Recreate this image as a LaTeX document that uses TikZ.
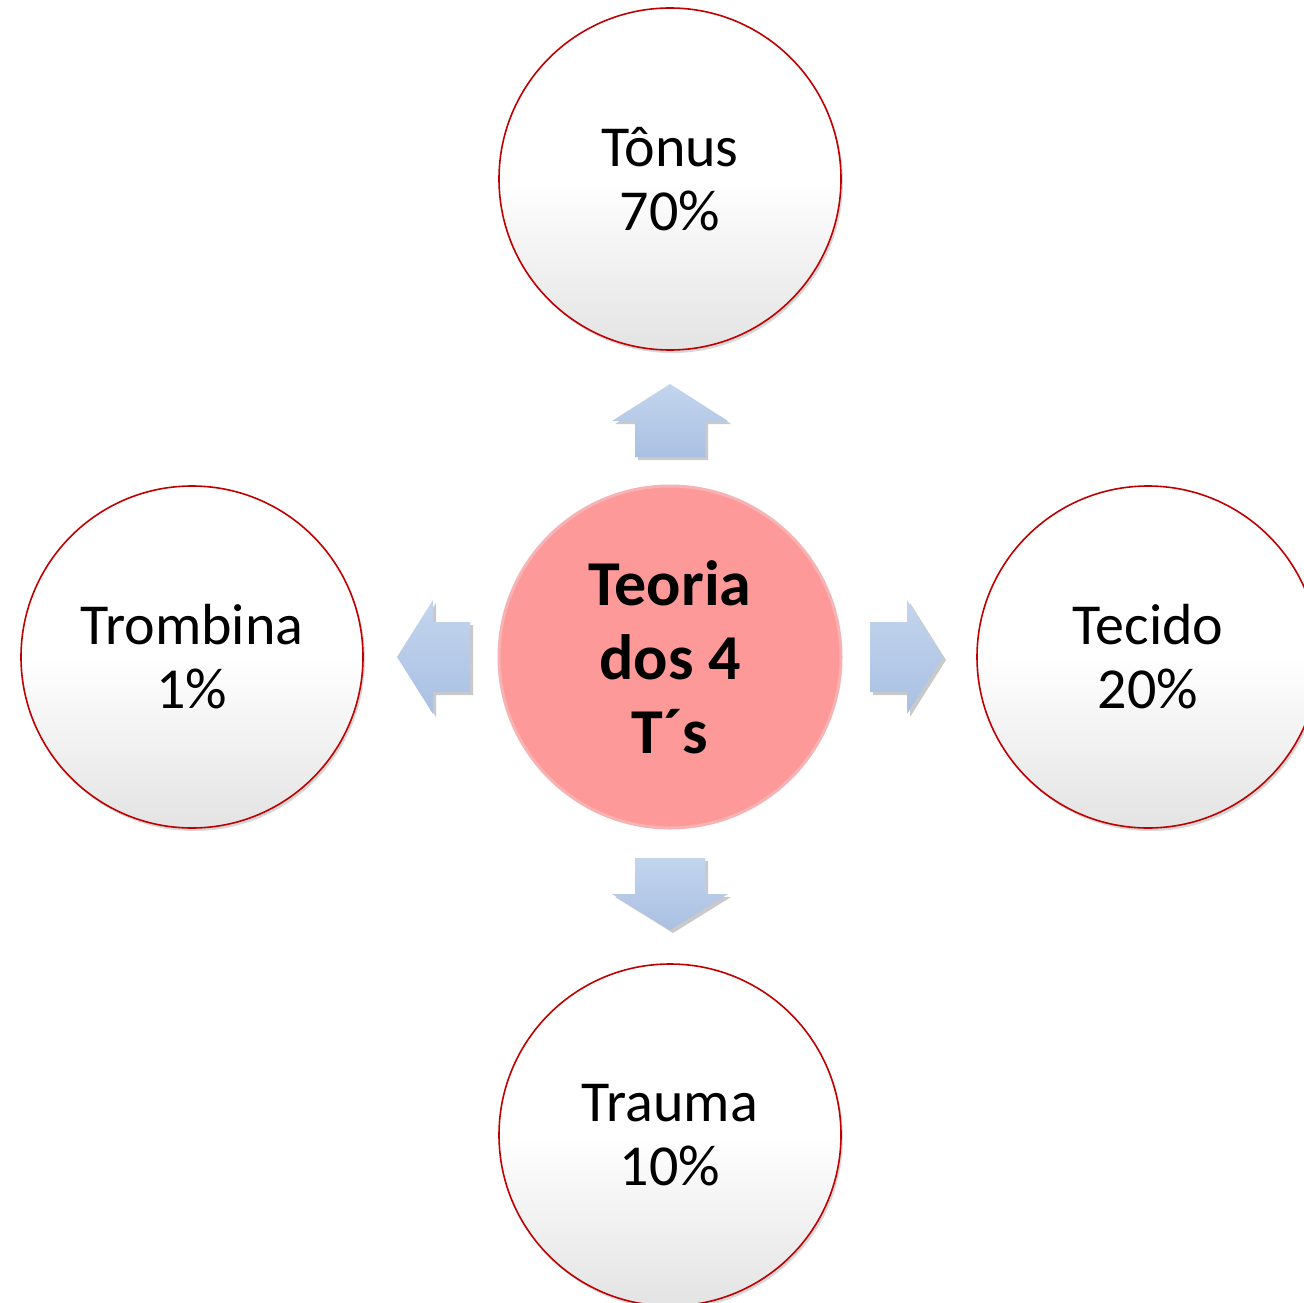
\documentclass[tikz,border=0pt]{standalone}
\usepackage{fontspec}
\setmainfont{Carlito}
\usetikzlibrary{shadows}
\definecolor{ringred}{HTML}{C00000}
\definecolor{pinkfill}{HTML}{FE9999}
\definecolor{pinkrim}{HTML}{F7B3B3}
\definecolor{arrowtop}{HTML}{C3D5EE}
\definecolor{arrowbot}{HTML}{A9C0E2}
\tikzset{
  outer/.style={circle, minimum size=342pt, inner sep=0pt, draw=ringred, line width=1.6pt,
    top color=white, bottom color=black!11, middle color=white,
    drop shadow={shadow xshift=2pt, shadow yshift=-3pt, opacity=0.25, fill=black!60},
    font=\fontsize{58}{64}\selectfont, align=center, text=black},
  core/.style={circle, minimum size=342pt, inner sep=0pt, draw=pinkrim, line width=3pt,
    fill=pinkfill, font=\fontsize{64}{74}\selectfont\bfseries, align=center, text=black},
  blockarrow/.style={top color=arrowtop, bottom color=arrowbot, draw=none,
    drop shadow={shadow xshift=3pt, shadow yshift=-3pt, opacity=0.35, fill=black!60}}
}
\begin{document}
\begin{tikzpicture}[x=1pt,y=-1pt]
\useasboundingbox (0,0) rectangle (1304,1303);
\fill[white] (0,0) rectangle (1304,1303);
\clip (0,0) rectangle (1304,1303);
% block arrows
\path[blockarrow] (670,384) -- (728,421) -- (705,421) -- (705,457) -- (635,457) -- (635,421) -- (612,421) -- cycle;
\path[blockarrow] (670,930) -- (728,894) -- (705,894) -- (705,858) -- (635,858) -- (635,894) -- (612,894) -- cycle;
\path[blockarrow] (397,657) -- (433,600) -- (433,622) -- (470,622) -- (470,692) -- (433,692) -- (433,714) -- cycle;
\path[blockarrow] (943,657) -- (907,600) -- (907,622) -- (870,622) -- (870,692) -- (907,692) -- (907,714) -- cycle;
% circles
\node[core] (center) at (670,657) {Teoria\\dos 4\\T´s};
\node[outer] (tonus) at (670,179) {Tônus\\70\%};
\node[outer] (trombina) at (192,657) {Trombina\\1\%};
\node[outer] (tecido) at (1148,657) {Tecido\\20\%};
\node[outer] (trauma) at (670,1135) {Trauma\\10\%};
\end{tikzpicture}
\end{document}
